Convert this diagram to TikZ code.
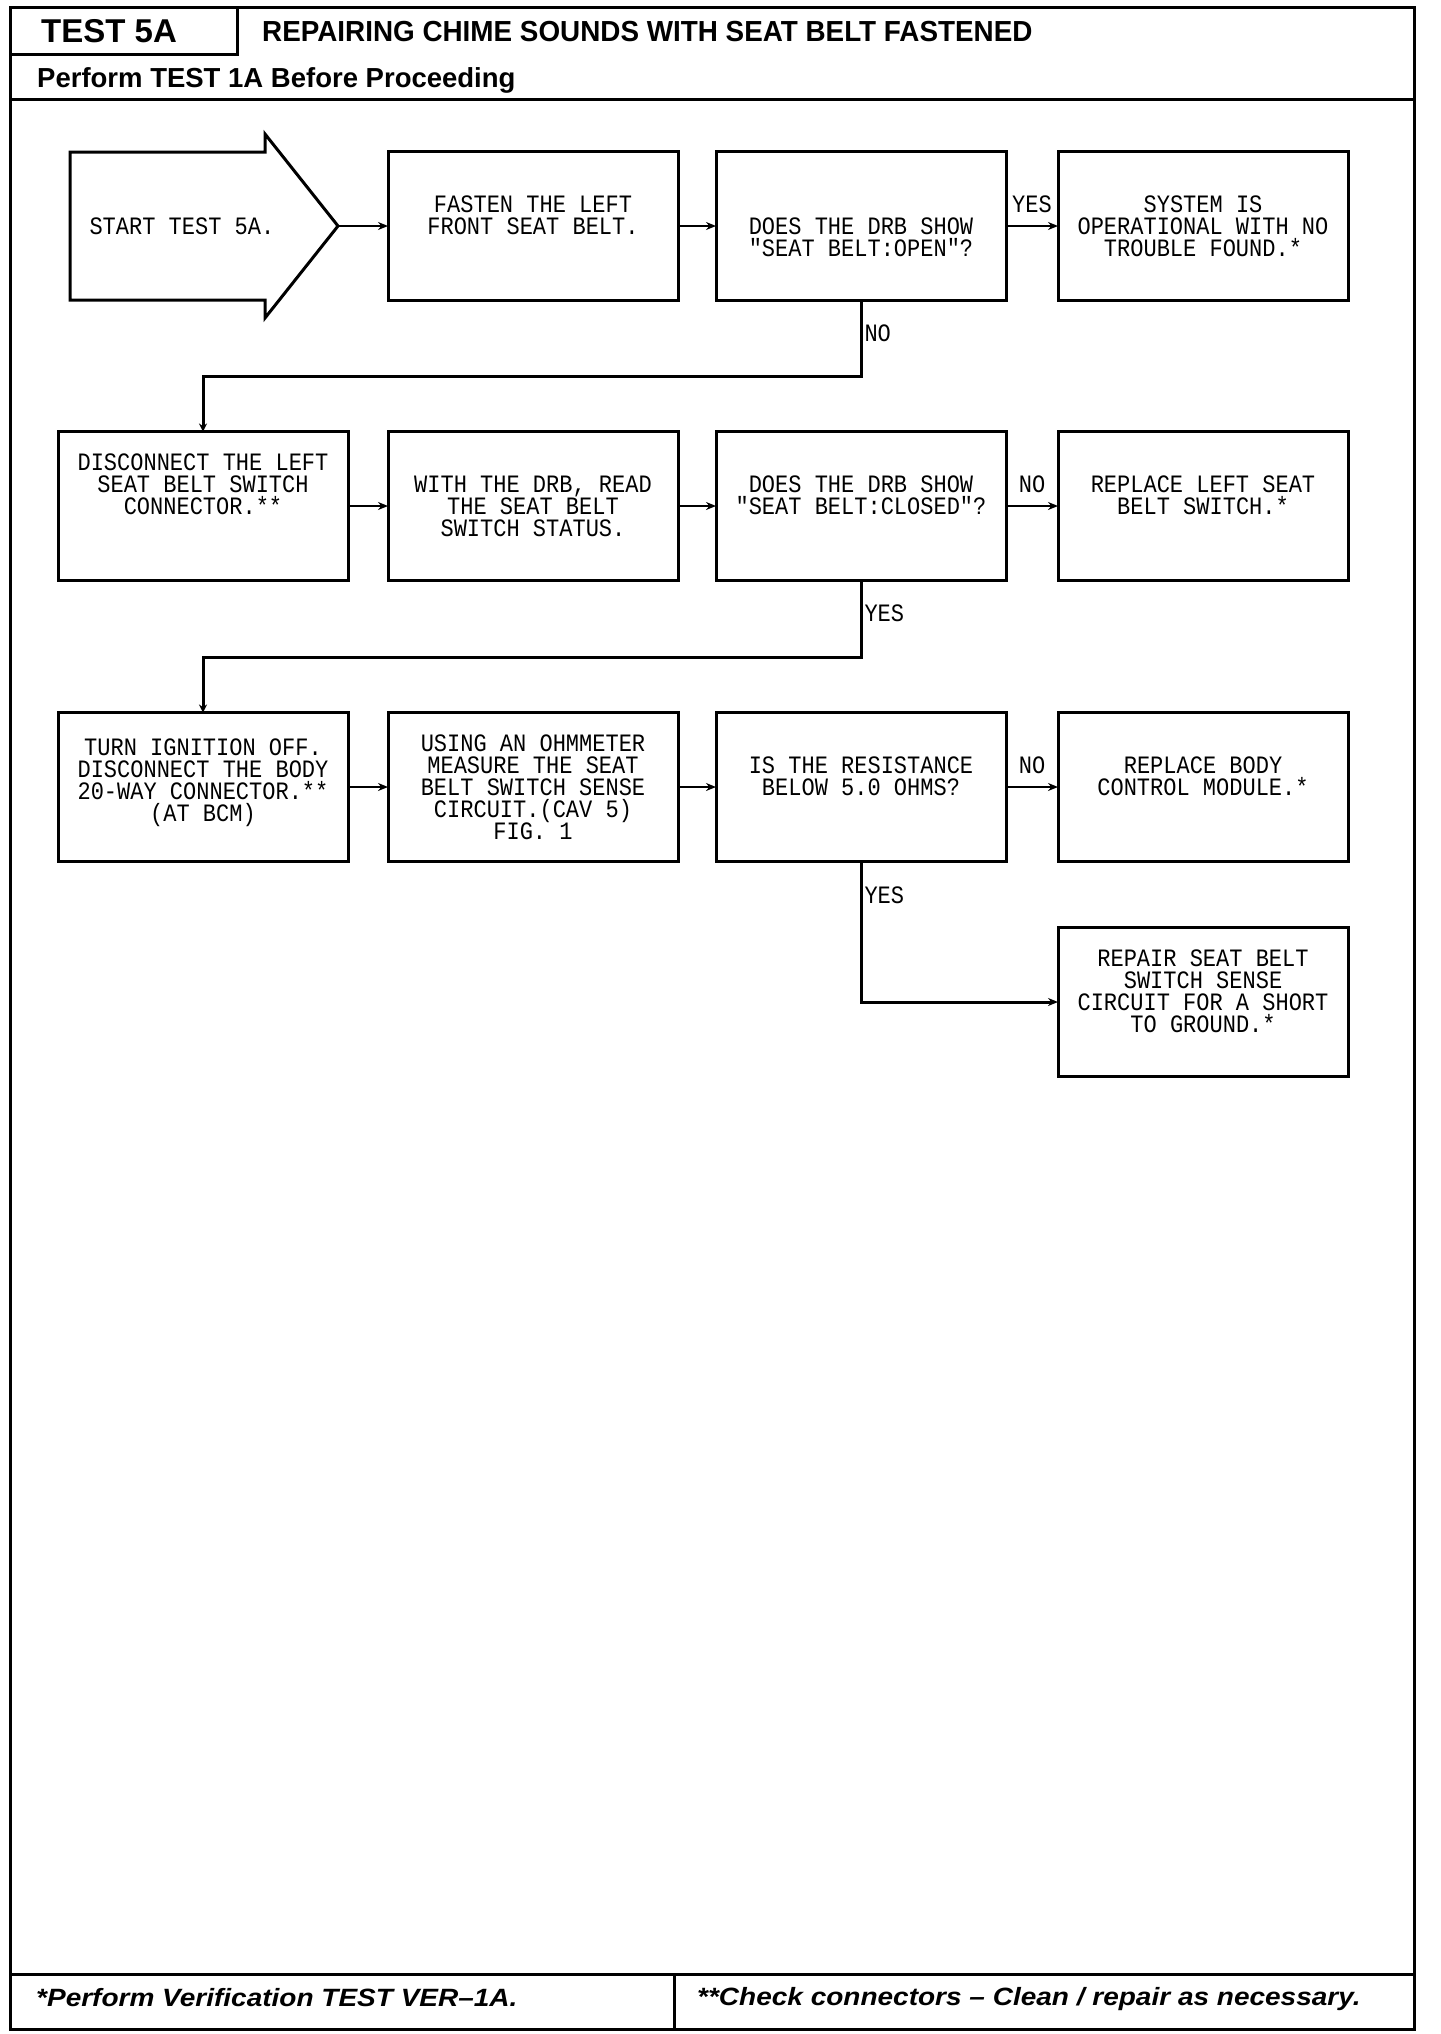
\documentclass[tikz,border=0pt]{standalone}
\usepackage{fontspec}
\setmainfont{Liberation Sans}
\newfontfamily\plotfont[FakeStretch=0.88]{Liberation Mono}
\newfontfamily\headfont[FakeStretch=0.96]{Liberation Sans}
\newfontfamily\footfont[FakeStretch=1.12]{Liberation Sans}
\usetikzlibrary{arrows.meta, positioning}

\begin{document}
\begin{tikzpicture}[x=1pt, y=-1pt, >={Stealth[length=10pt,width=8pt]},
        stepbox/.style={rectangle, draw, line width=3pt, outer sep=0pt, minimum width=290pt, minimum height=149pt, align=center, inner sep=4pt, font={\plotfont\fontsize{25}{22}\selectfont}},
        link/.style={->, line width=2.5pt},
        loop/.style={->, line width=3pt},
        ans/.style={font={\plotfont\fontsize{25}{22}\selectfont}, inner sep=2pt}]
    \useasboundingbox (0,0) rectangle (1440,2034);

    % frame and headings
    \draw[line width=3pt] (10,8) rectangle (1414,2029);
    \draw[line width=3pt] (237,8) -- (237,55) -- (10,55);
    \draw[line width=3pt] (10,99) -- (1414,99);
    \draw[line width=3pt] (10,1974) -- (1414,1974);
    \draw[line width=3pt] (674,1974) -- (674,2029);
    \node (testno) [anchor=base west, inner sep=0pt, font=\bfseries\fontsize{33}{36}\selectfont] at (41,43) {TEST 5A};
    \node (title) [anchor=base west, inner sep=0pt, font=\headfont\bfseries\fontsize{29}{32}\selectfont] at (262,42) {REPAIRING CHIME SOUNDS WITH SEAT BELT FASTENED};
    \node (prereq) [anchor=base west, inner sep=0pt, font=\bfseries\fontsize{27.5}{30}\selectfont] at (37,88) {Perform TEST 1A Before Proceeding};
    \node (footver) [anchor=base west, inner sep=0pt, font=\footfont\bfseries\itshape\fontsize{25}{28}\selectfont] at (36,2006) {*Perform Verification TEST VER–1A.};
    \node (footchk) [anchor=base west, inner sep=0pt, font=\footfont\bfseries\itshape\fontsize{25}{28}\selectfont] at (697,2005) {**Check connectors – Clean / repair as necessary.};

    % start arrow
    \draw[line width=3pt, line join=miter] (70,152) -- (265,152) -- (265,134) -- (338,226) -- (265,318) -- (265,300) -- (70,300) -- cycle;
    \node (start) [anchor=west, font={\plotfont\fontsize{25}{22}\selectfont}] at (86,226) {START TEST 5A.};
    \coordinate (tip) at (338,226);

    % row 1
    \node (fasten) [stepbox] at (533,226) {FASTEN THE LEFT\\FRONT SEAT BELT.\\[0pt]};
    \node (openq) [stepbox, right=38pt of fasten] {DOES THE DRB SHOW\\"SEAT BELT:OPEN"?\\[-44pt]};
    \node (nofault) [stepbox, right=52pt of openq] {SYSTEM IS\\OPERATIONAL WITH NO\\TROUBLE FOUND.*};

    % row 2
    \node (readsw) [stepbox, below=131pt of fasten] {WITH THE DRB, READ\\THE SEAT BELT\\SWITCH STATUS.};
    \node (unplug) [stepbox, left=40pt of readsw] {DISCONNECT THE LEFT\\SEAT BELT SWITCH\\CONNECTOR.**\\[22pt]};
    \node (closedq) [stepbox, below=131pt of openq] {DOES THE DRB SHOW\\"SEAT BELT:CLOSED"?\\[0pt]};
    \node (replsw) [stepbox, below=131pt of nofault] {REPLACE LEFT SEAT\\BELT SWITCH.*\\[0pt]};

    % row 3
    \node (ohmmeter) [stepbox, below=132pt of readsw] {USING AN OHMMETER\\MEASURE THE SEAT\\BELT SWITCH SENSE\\CIRCUIT.(CAV 5)\\FIG. 1};
    \node (ignoff) [stepbox, left=40pt of ohmmeter] {TURN IGNITION OFF.\\DISCONNECT THE BODY\\20-WAY CONNECTOR.**\\(AT BCM)\\[-8pt]};
    \node (resq) [stepbox, below=132pt of closedq] {IS THE RESISTANCE\\BELOW 5.0 OHMS?\\[0pt]};
    \node (replbcm) [stepbox, below=132pt of replsw] {REPLACE BODY\\CONTROL MODULE.*\\[0pt]};

    % row 4
    \node (repair) [stepbox, below=66pt of replbcm] {REPAIR SEAT BELT\\SWITCH SENSE\\CIRCUIT FOR A SHORT\\TO GROUND.*\\[0pt]};

    % connectors
    \draw[->, line width=1.5pt] (tip) -- (fasten);
    \draw[link] (fasten) -- (openq);
    \draw[link] (openq) -- node[ans, above=10pt] {YES} (nofault);
    \draw[loop, -{Stealth[length=8pt,width=8pt]}] (openq.south) -- ++(0,76) node[ans, right, pos=0.43] {NO} -| (unplug.north);
    \draw[link] (unplug) -- (readsw);
    \draw[link] (readsw) -- (closedq);
    \draw[link] (closedq) -- node[ans, above=10pt] {NO} (replsw);
    \draw[loop, -{Stealth[length=8pt,width=8pt]}] (closedq.south) -- ++(0,77) node[ans, right, pos=0.43] {YES} -| (ignoff.north);
    \draw[link] (ignoff) -- (ohmmeter);
    \draw[link] (ohmmeter) -- (resq);
    \draw[link] (resq) -- node[ans, above=10pt] {NO} (replbcm);
    \draw[loop] (resq.south) |- node[ans, right, pos=0.12] {YES} (repair.west);
\end{tikzpicture}
\end{document}
